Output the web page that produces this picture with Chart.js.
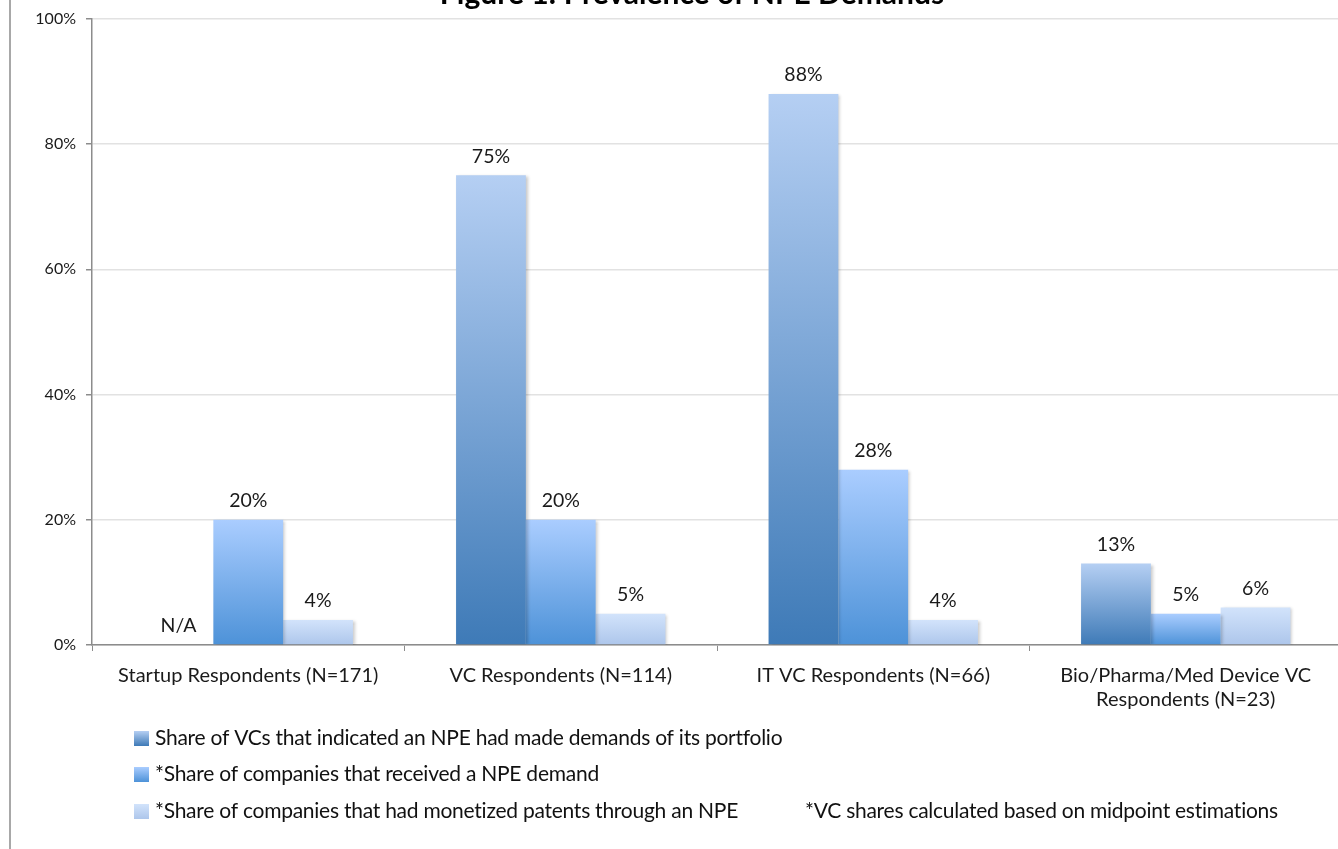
<!DOCTYPE html>
<html>
<head>
<meta charset="utf-8">
<title>Figure 1: Prevalence of NPE Demands</title>
<script src="https://cdn.jsdelivr.net/npm/chart.js@4.4.1/dist/chart.umd.min.js"></script>
<style>
  html, body { margin: 0; padding: 0; background: #fff; overflow: hidden; }
  #wrap { position: relative; width: 1338px; height: 849px; overflow: hidden; }
</style>
</head>
<body>
<div id="wrap"><canvas id="c" width="1342" height="849"></canvas></div>
<script>
// ---- data ----
const chartTitle = 'Figure 1: Prevalence of NPE Demands';
const categories = [
  ['Startup Respondents (N=171)'],
  ['VC Respondents (N=114)'],
  ['IT VC Respondents (N=66)'],
  ['Bio/Pharma/Med Device VC', 'Respondents (N=23)']
];
const seriesNames = [
  'Share of VCs that indicated an NPE had made demands of its portfolio',
  '*Share of companies that received a NPE demand',
  '*Share of companies that had monetized patents through an NPE'
];
const vcDemandShare = [null, 75, 88, 13];
const receivedDemandShare = [20, 20, 28, 5];
const monetizedShare = [4, 5, 4, 6];
const yTickValues = [0, 20, 40, 60, 80, 100];
const missingLabel = 'N/A';
const footnote = '*VC shares calculated based on midpoint estimations';

// ---- styling ----
const FONT = 'Lato, "Open Sans", sans-serif';
const seriesGradients = [
  ['#b5cff3', '#3e7ab7'],
  ['#aacdff', '#4d92d8'],
  ['#d2e3fb', '#adc6eb']
];

// vertical gradient spanning each bar from its top down to the baseline
function barFill(stops) {
  return (ctx) => {
    const chart = ctx.chart;
    const y = chart.scales && chart.scales.y;
    if (!y || !ctx.parsed || ctx.parsed.y == null) return stops[1];
    const top = y.getPixelForValue(ctx.parsed.y);
    const base = y.getPixelForValue(0);
    if (!Number.isFinite(top) || !Number.isFinite(base)) return stops[1];
    const g = chart.ctx.createLinearGradient(0, top, 0, Math.max(base, top + 1));
    g.addColorStop(0, stops[0]);
    g.addColorStop(1, stops[1]);
    return g;
  };
}

const seriesData = [vcDemandShare, receivedDemandShare, monetizedShare];

const datasets = seriesData.map((d, i) => ({
  label: seriesNames[i],
  data: d,
  backgroundColor: barFill(seriesGradients[i]),
  borderWidth: 0,
  categoryPercentage: 0.67,
  barPercentage: 1.0
}));

// soft drop shadow behind bars
const barShadow = {
  id: 'barShadow',
  beforeDatasetsDraw(chart) {
    const c = chart.ctx;
    c.save();
    c.shadowColor = 'rgba(0,0,0,0.22)';
    c.shadowBlur = 3;
    c.shadowOffsetX = 2;
    c.shadowOffsetY = 1;
  },
  afterDatasetsDraw(chart) {
    chart.ctx.restore();
  }
};

// value labels above each bar ("N/A" where there is no value)
const valueLabels = {
  id: 'valueLabels',
  afterDatasetsDraw(chart) {
    const c = chart.ctx;
    const y0 = chart.scales.y.getPixelForValue(0);
    c.save();
    c.font = '19.5px ' + FONT;
    c.fillStyle = '#1a1a1a';
    c.textAlign = 'center';
    c.textBaseline = 'middle';
    chart.data.datasets.forEach((ds, di) => {
      const meta = chart.getDatasetMeta(di);
      meta.data.forEach((el, i) => {
        const v = ds.data[i];
        const text = v == null ? missingLabel : v + '%';
        const y = v == null ? y0 : el.y;
        c.fillText(text, el.x, y - 19);
      });
    });
    c.restore();
  }
};

// title, left frame edge, legend rows and footnote
const decorations = {
  id: 'decorations',
  afterDraw(chart) {
    const c = chart.ctx;
    c.save();
    // left frame edge
    c.strokeStyle = '#a8a8a8';
    c.lineWidth = 2;
    c.beginPath();
    c.moveTo(10, 0);
    c.lineTo(10, chart.height);
    c.stroke();

    // title (sits partly above the top edge)
    c.font = 'bold 30px ' + FONT;
    c.fillStyle = '#000';
    c.textAlign = 'center';
    c.textBaseline = 'alphabetic';
    c.fillText(chartTitle, 692, 4);

    // legend
    const rowsY = [738, 774, 811];
    c.font = '21px ' + FONT;
    c.letterSpacing = '-0.25px';
    c.textAlign = 'left';
    c.textBaseline = 'middle';
    chart.data.datasets.forEach((ds, i) => {
      const y = rowsY[i];
      const g = c.createLinearGradient(0, y - 7, 0, y + 8);
      g.addColorStop(0, seriesGradients[i][0]);
      g.addColorStop(1, seriesGradients[i][1]);
      c.fillStyle = g;
      c.fillRect(134, y - 7, 15, 15);
      c.fillStyle = '#111';
      c.fillText(ds.label, 155, y);
    });
    // footnote
    c.fillText(footnote, 805, rowsY[2]);
    c.restore();
  }
};

new Chart(document.getElementById('c'), {
  type: 'bar',
  data: { labels: categories, datasets },
  options: {
    responsive: false,
    animation: false,
    devicePixelRatio: 1,
    layout: { padding: { top: 8, right: 0, bottom: 134, left: 0 } },
    plugins: {
      legend: { display: false },
      title: { display: false },
      tooltip: { enabled: false }
    },
    scales: {
      x: {
        offset: true,
        grid: {
          display: true,
          drawOnChartArea: false,
          drawTicks: true,
          tickLength: 6,
          tickColor: '#8c8c8c',
          offset: true
        },
        border: { display: true, color: '#8c8c8c', width: 1.5 },
        ticks: {
          font: { family: FONT, size: 20, lineHeight: 1.2 },
          color: '#1a1a1a',
          padding: 13,
          maxRotation: 0,
          autoSkip: false
        },
        afterFit(s) { s.height = 70; }
      },
      y: {
        min: 0,
        max: 100,
        afterBuildTicks(s) { s.ticks = yTickValues.map(v => ({ value: v })); },
        grid: {
          color: '#e2e2e2',
          lineWidth: 1.5,
          tickLength: 6,
          tickColor: '#8c8c8c'
        },
        border: { display: true, color: '#8c8c8c', width: 1.5 },
        ticks: {
          font: { family: FONT, size: 16, lineHeight: 1.1 },
          color: '#1a1a1a',
          padding: 10,
          callback: (v) => v + '%'
        },
        afterFit(s) { s.width = 92; }
      }
    }
  },
  plugins: [barShadow, valueLabels, decorations]
});
</script>
</body>
</html>
